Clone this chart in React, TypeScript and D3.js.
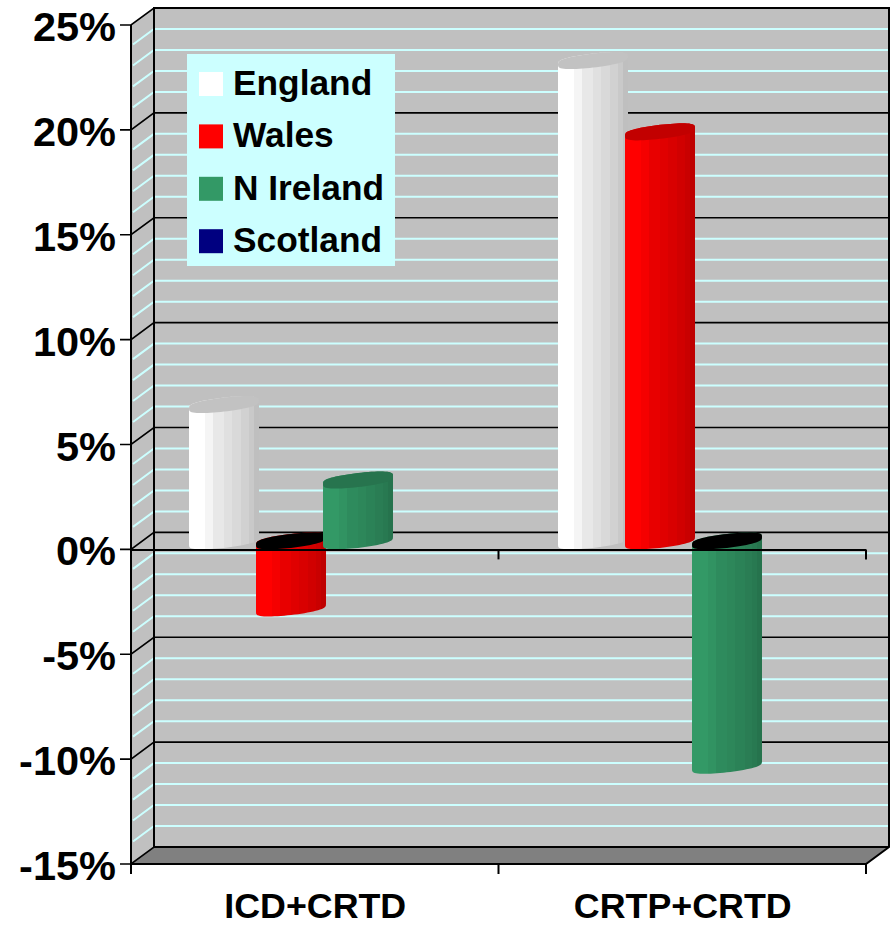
import React from "react";
import * as d3 from "d3";

const categories = ["ICD+CRTD", "CRTP+CRTD"];
const seriesNames = ["England", "Wales", "N Ireland", "Scotland"];
const seriesColors = ["#ffffff", "#ff0000", "#339966", "#000080"];
const england = [6.5, 22.9];
const wales = [-3.2, 19.5];
const nIreland = [2.9, -10.7];
const scotland = [0, 0];
const seriesValues = [england, wales, nIreland, scotland];
const majorTicks = d3.range(-15, 26, 5);
const minorTicks = d3.range(-14, 25).filter((v) => v % 5 !== 0);
const stripStops = [0.23, 0.34, 0.5, 0.62, 0.75, 0.86, 0.93, 1];
const stripShades = [1, 0.96, 0.91, 0.88, 0.85, 0.82, 0.79, 0.75];

const W = 895, H = 925;
const FX0 = 131, FX1 = 866, FY0 = 864, FY1 = 25;
const DX = 23, DY = 17;
const y = d3.scaleLinear().domain([-15, 25]).range([FY0, FY1]);
const x = d3.scaleBand().domain(categories).range([FX0, FX1]);
const xBars = d3.scaleBand().domain(categories).range([FX0, FX1 + 3]);
const FONT = "'Liberation Sans', Arial, sans-serif";

const shade = (col: string, f: number) => {
  const c = d3.rgb(col);
  return d3.rgb(c.r * f, c.g * f, c.b * f).formatHex();
};

const RX = 35, TILT = 4, RY = 7;
const line = d3.line<[number, number]>().x((d) => d[0]).y((d) => d[1]);
const arcPts = (cx: number, cy: number, from: number, to: number, n = 32) =>
  d3.range(n + 1).map((i): [number, number] => {
    const t = from + ((to - from) * i) / n;
    const sn = Math.sin(t);
    return [cx + RX * Math.cos(t), cy - TILT * Math.cos(t) + RY * Math.sign(sn) * Math.pow(Math.abs(sn), 0.6)];
  });

function Bar({ cx, v, s }: { cx: number; v: number; s: number }) {
  const zero = y(0) - 8.5;
  const end = y(v) - 8.5;
  const top = Math.min(zero, end);
  const bot = Math.max(zero, end);
  const body = [...arcPts(cx, top, Math.PI, 2 * Math.PI), ...arcPts(cx, bot, 0, Math.PI)];
  const cap = arcPts(cx, top, 0, 2 * Math.PI, 64);
  const col = seriesColors[s];
  return (
    <g>
      <path d={line(body) + "Z"} fill={`url(#grad${s})`} />
      <path d={line(cap) + "Z"} fill={v < 0 ? "#000000" : shade(col, 0.76)} />
    </g>
  );
}

export default function App() {
  const bx = (c: string) => xBars(c)! + xBars.bandwidth() / 2 + 9;
  return (
    <svg width={W} height={H} style={{ position: "absolute", left: 0, top: 0, background: "#fff" }} fontFamily={FONT}>
      <defs>
        {seriesColors.map((c, s) => (
          <linearGradient id={`grad${s}`} key={s} x1="0" x2="1" y1="0" y2="0">
            {stripStops.map((st, i) => (
              <React.Fragment key={i}>
                <stop offset={i === 0 ? 0 : stripStops[i - 1]} stopColor={shade(c, stripShades[i])} />
                <stop offset={st} stopColor={shade(c, stripShades[i])} />
              </React.Fragment>
            ))}
          </linearGradient>
        ))}
      </defs>

      {/* walls */}
      <rect x={FX0 + DX - 1} y={FY1 - DY} width={FX1 - FX0 + 1} height={FY0 - FY1} fill="#c0c0c0" />
      <path d={`M${FX0},${FY1}L${FX0 + DX},${FY1 - DY}L${FX0 + DX},${FY0 - DY}L${FX0},${FY0}Z`} fill="#c0c0c0" />
      <path d={`M${FX0},${FY0}L${FX0 + DX},${FY0 - DY}L${FX1 + DX},${FY0 - DY}L${FX1},${FY0}Z`} fill="#808080" />

      {minorTicks.map((v) => (
        <path key={v} d={`M${FX0 + 2},${y(v) - 1.5}L${FX0 + DX},${y(v) - DY}L${FX1 + DX - 1},${y(v) - DY}`} fill="none" stroke="#ccffff" strokeWidth={2} />
      ))}
      {majorTicks.map((v) => (
        <path key={v} d={`M${FX0 - 11},${y(v)}L${FX0},${y(v)}L${FX0 + DX},${y(v) - DY}L${FX1 + DX},${y(v) - DY}`} fill="none" stroke="#000" strokeWidth={1.6} />
      ))}
      <path d={`M${FX0 + DX},${FY0 - DY}V${FY1 - DY}H${FX1 + DX}V${FY0 - DY}L${FX1},${FY0}H${FX0}`} fill="none" stroke="#000" strokeWidth={2} />
      <path d={`M${FX0 + DX},${FY0 - DY}H${FX1 + DX}`} stroke="#000" strokeWidth={2} />
      <path d={`M${FX0},${FY1}V${FY0 + 10}`} stroke="#000" strokeWidth={2} />
      {[FX0, x(categories[1])!, FX1].map((tx) => (
        <path key={tx} d={`M${tx},${FY0}V${FY0 + 10}`} stroke="#000" strokeWidth={2} />
      ))}

      {/* bars */}
      {categories.map((c, ci) =>
        seriesValues.map((vals, s) =>
          vals[ci] === 0 ? null : (
            <Bar key={`${ci}-${s}`} cx={bx(c) + (s - 1.5) * 67} v={vals[ci]} s={s} />
          )
        )
      )}

      {/* zero axis */}
      <path d={`M${FX0},${y(0) + 0.5}H${FX1}`} stroke="#000" strokeWidth={2} />
      {[FX0, x(categories[1])!, FX1].map((tx) => (
        <path key={tx} d={`M${tx},${y(0)}V${y(0) + 10}`} stroke="#000" strokeWidth={2} />
      ))}

      {/* labels */}
      {majorTicks.map((v) => (
        <text key={v} x={116} y={y(v) + 16} textAnchor="end" fontSize={41.5} fontWeight={700} fill="#000">
          {`${v}%`}
        </text>
      ))}
      {categories.map((c) => (
        <text key={c} x={x(c)! + x.bandwidth() / 2 + 0.5} y={918} textAnchor="middle" fontSize={35.8} fontWeight={700} fill="#000">
          {c}
        </text>
      ))}

      {/* legend */}
      <rect x={187} y={54} width={208} height={212} fill="#ccffff" />
      {seriesNames.map((n, i) => (
        <g key={n}>
          <rect x={199} y={72 + i * 52.4} width={24} height={24} fill={seriesColors[i]} />
          <text x={233} y={95 + i * 52.4} fontSize={35.3} fontWeight={700} fill="#000">
            {n}
          </text>
        </g>
      ))}
    </svg>
  );
}
